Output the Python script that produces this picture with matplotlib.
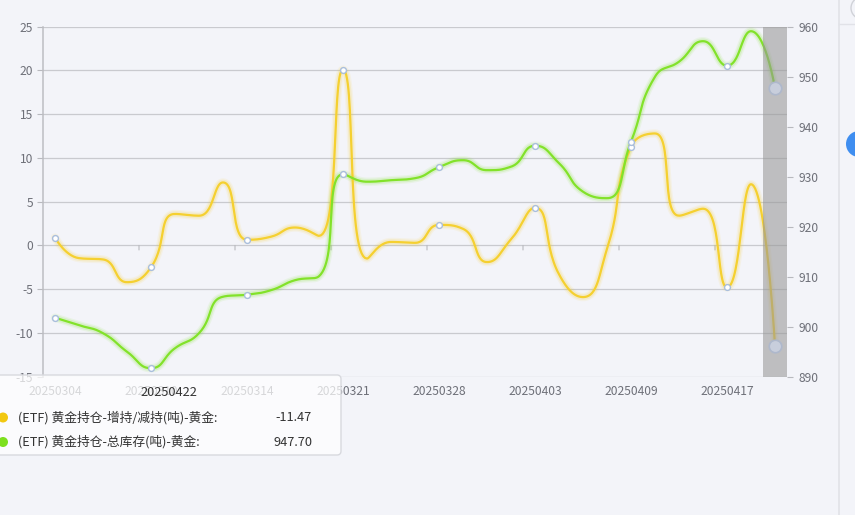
import numpy as np
import matplotlib
matplotlib.use('Agg')
import matplotlib.pyplot as plt
from matplotlib.patches import FancyBboxPatch, Circle
from matplotlib.transforms import IdentityTransform
from matplotlib.lines import Line2D

plt.rcParams['font.family'] = ['Noto Sans CJK SC', 'DejaVu Sans']

# ---------------- data ----------------
dates = ['20250304', '20250305', '20250306', '20250307', '20250310', '20250311',
         '20250312', '20250313', '20250314', '20250317', '20250318', '20250320',
         '20250321', '20250324', '20250325', '20250327', '20250328', '20250331',
         '20250401', '20250402', '20250403', '20250404', '20250407', '20250408',
         '20250409', '20250411', '20250414', '20250416', '20250417', '20250421',
         '20250422']
change = [0.9, -1.45, -1.6, -4.2, -2.5, 3.6, 3.4, 7.2, 0.65, 1.0, 2.05, 1.1,
          20.1, -1.5, 0.4, 0.3, 2.35, 1.9, -1.9, 0.7, 4.3, -3.3, -5.9, -0.4,
          11.3, 12.8, 3.4, 4.2, -4.8, 7.0, -11.47]
total = [901.8, 900.3, 898.7, 895.0, 891.7, 895.7, 898.7, 906.0, 906.4, 907.3,
         909.3, 910.1, 930.5, 929.0, 929.3, 929.7, 931.9, 933.3, 931.3, 932.0,
         936.2, 932.7, 927.0, 925.7, 937.0, 950.0, 953.0, 957.1, 952.2, 959.1,
         947.70]
left_ticks = [-15, -10, -5, 0, 5, 10, 15, 20, 25]
right_ticks = [890, 900, 910, 920, 930, 940, 950, 960]
series_names = ['(ETF) 黄金持仓-增持/减持(吨)-黄金:', '(ETF) 黄金持仓-总库存(吨)-黄金:']
hover_index = 30

# ---------------- style ----------------
W, H = 855, 515
BG = '#F3F4F9'
GRID = '#C9CACF'
LABEL = '#6E7079'
YELLOW = '#F5D030'
GREEN = '#82E22A'
FS = 8.7

fig = plt.figure(figsize=(W / 100, H / 100), dpi=100, facecolor=BG)
L, R, T, B = 43, 787, 26.7, 376.7
ax1 = fig.add_axes([L / W, (H - B) / H, (R - L) / W, (B - T) / H])
ax1.set_facecolor(BG)
ax2 = ax1.twinx()
ax2.patch.set_visible(False)

n = len(dates)
x = np.arange(n)
ax1.set_xlim(-0.5, n - 0.5)
ax1.set_ylim(left_ticks[0], left_ticks[-1])
ax2.set_ylim(right_ticks[0], right_ticks[-1])

for a in (ax1, ax2):
    for s in a.spines.values():
        s.set_visible(False)
ax1.spines['left'].set_visible(True)
ax1.spines['left'].set_color('#BDBEC3')
ax1.spines['left'].set_linewidth(1.1)

ax1.set_yticks(left_ticks)
ax1.set_yticklabels([str(v) for v in left_ticks])
ax1.tick_params(axis='y', colors='#B8B9BE', labelcolor=LABEL, labelsize=FS,
                length=4, width=0.8, pad=3)
ax2.set_yticks(right_ticks)
ax2.set_yticklabels([str(v) for v in right_ticks])
ax2.tick_params(axis='y', colors='#B8B9BE', labelcolor=LABEL, labelsize=FS,
                length=4, width=0.8, pad=4)
for yv in left_ticks:
    ax1.axhline(yv, color=GRID, lw=0.9, zorder=0.5)

label_idx = list(range(0, n - 1, 4))
ax1.set_xticks(label_idx)
ax1.set_xticklabels([dates[i] for i in label_idx])
ax1.tick_params(axis='x', length=0, labelcolor=LABEL, labelsize=FS, pad=6)

# x-axis ticks on the zero line (category boundaries)
for b in np.arange(3.5, n - 1, 4):
    ax1.annotate('', xy=(b, 0), xycoords='data', xytext=(0, -4.5),
                 textcoords='offset pixels',
                 arrowprops=dict(arrowstyle='-', color='#B8B9BE', lw=0.8,
                                 shrinkA=0, shrinkB=0))


def smooth_curve(ax, xs, ys, smooth=0.5, nseg=30):
    pts = ax.transData.transform(np.column_stack([xs, ys]))
    px, py = pts[:, 0], pts[:, 1]
    m = len(px)
    ox, oy = [px[0]], [py[0]]
    cp0x, cp0y = px[0], py[0]
    for k in range(1, m):
        xk, yk = px[k], py[k]
        pvx, pvy = px[k - 1], py[k - 1]
        if k == m - 1:
            cp1x, cp1y = xk, yk
            ncx, ncy = xk, yk
        else:
            nx, ny = px[k + 1], py[k + 1]
            vx, vy = nx - pvx, ny - pvy
            l0 = np.hypot(xk - pvx, yk - pvy)
            l1 = np.hypot(nx - xk, ny - yk)
            r = l1 / (l0 + l1)
            ncx = xk + vx * smooth * r
            ncy = yk + vy * smooth * r
            ncx = max(min(ncx, max(nx, xk)), min(nx, xk))
            ncy = max(min(ncy, max(ny, yk)), min(ny, yk))
            vx, vy = ncx - xk, ncy - yk
            cp1x = xk - vx * l0 / l1
            cp1y = yk - vy * l0 / l1
            cp1x = max(min(cp1x, max(pvx, xk)), min(pvx, xk))
            cp1y = max(min(cp1y, max(pvy, yk)), min(pvy, yk))
            vx, vy = xk - cp1x, yk - cp1y
            ncx = xk + vx * l1 / l0
            ncy = yk + vy * l1 / l0
        t = np.linspace(0, 1, nseg + 1)[1:]
        bx = (1 - t) ** 3 * pvx + 3 * (1 - t) ** 2 * t * cp0x + 3 * (1 - t) * t ** 2 * cp1x + t ** 3 * xk
        by = (1 - t) ** 3 * pvy + 3 * (1 - t) ** 2 * t * cp0y + 3 * (1 - t) * t ** 2 * cp1y + t ** 3 * yk
        ox.extend(bx)
        oy.extend(by)
        cp0x, cp0y = ncx, ncy
    back = ax.transData.inverted().transform(np.column_stack([ox, oy]))
    return back[:, 0], back[:, 1]


# yellow series on left axis, drawn inside ax2 via ax1's data transform
cx, cy = smooth_curve(ax1, x, change)
gx, gy = smooth_curve(ax2, x, total)
for lw, al in [(6, 0.09), (4, 0.16)]:
    ax2.plot(cx, cy, color=YELLOW, lw=lw, alpha=al, transform=ax1.transData,
             solid_capstyle='round', zorder=2)
    ax2.plot(gx, gy, color=GREEN, lw=lw, alpha=al, solid_capstyle='round', zorder=2)
ax2.plot(cx, cy, color=YELLOW, lw=1.6, transform=ax1.transData, zorder=2.5)
ax2.plot(gx, gy, color=GREEN, lw=1.6, zorder=2.5)

# markers every 4th point
mk = label_idx
ax2.plot(x[mk], np.array(change)[mk], 'o', ms=4.2, mfc='white', mec='#A9BEDD',
         mew=1.0, transform=ax1.transData, zorder=4)
ax2.plot(x[mk], np.array(total)[mk], 'o', ms=4.2, mfc='white', mec='#A9BEDD',
         mew=1.0, zorder=4)

# axis pointer shadow
ax2.axvspan(hover_index - 0.5, hover_index + 0.5, color=(150 / 255, 150 / 255, 150 / 255),
            alpha=0.57, lw=0, zorder=3)

# hovered points
ax2.plot([x[hover_index]], [change[hover_index]], 'o', ms=9, mfc='#C8CEDC',
         mec='#AEB8CC', mew=1.2, transform=ax1.transData, zorder=5)
ax2.plot([x[hover_index]], [total[hover_index]], 'o', ms=9, mfc='#C8CEDC',
         mec='#AEB8CC', mew=1.2, zorder=5)

# ---------------- page furniture & tooltip (pixel coords) ----------------
ID = IdentityTransform()


def py_(y):
    return H - y


fig.add_artist(Line2D([839, 839], [0, H], transform=ID, color='#E1E2E8', lw=1.2))
fig.add_artist(Line2D([839, W], [py_(24), py_(24)], transform=ID, color='#E1E2E8', lw=1.0))
fig.add_artist(Circle((862, py_(8)), 11, transform=ID, facecolor='#F3F4F9',
                      edgecolor='#D0D2D8', lw=1.0))
fig.add_artist(Circle((859, py_(144)), 13, transform=ID, facecolor='#3F8EF0',
                      edgecolor='none'))

tip = FancyBboxPatch((-10, py_(455)), 351, 80, transform=ID,
                     boxstyle='round,pad=0,rounding_size=4',
                     facecolor=(1, 1, 1, 0.72), edgecolor='#D8D9DE', lw=1.0)
fig.add_artist(tip)
fig.text(169 / W, py_(393) / H, dates[hover_index], ha='center', va='center',
         fontsize=9.2, color='#333333')
colors_dot = ['#F2C811', '#7DE01E']
values = [change[hover_index], total[hover_index]]
for k, (nm, val, c) in enumerate(zip(series_names, values, colors_dot)):
    yy = 417.5 + k * 24.5
    fig.add_artist(Circle((3, py_(yy)), 5, transform=ID, facecolor=c, edgecolor='none'))
    fig.text(18 / W, py_(yy) / H, nm, ha='left', va='center', fontsize=9.2,
             color='#333333')
    fig.text(312 / W, py_(yy) / H, f'{val:.2f}', ha='right', va='center',
             fontsize=9.2, color='#333333')

fig.savefig('out.png', dpi=100, facecolor=BG)
